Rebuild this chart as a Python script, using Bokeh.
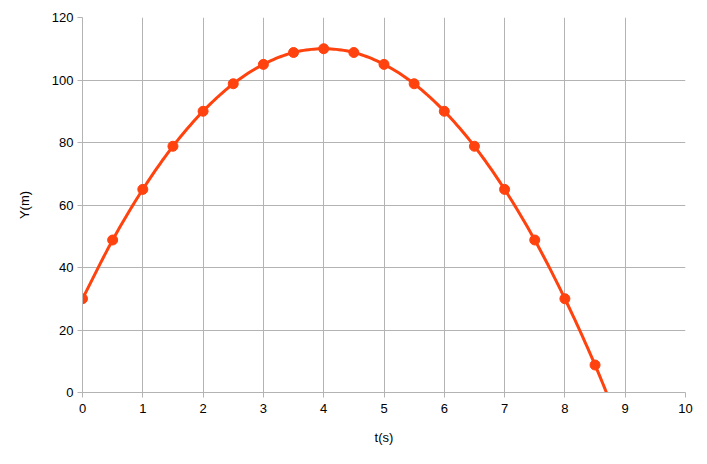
import numpy as np
from bokeh.plotting import figure
from bokeh.embed import file_html
from bokeh.resources import INLINE
from bokeh.models import FixedTicker

t = [0, 0.5, 1, 1.5, 2, 2.5, 3, 3.5, 4, 4.5, 5, 5.5, 6, 6.5, 7, 7.5, 8, 8.5, 9]
y = [30, 48.8, 65, 78.8, 90, 98.8, 105, 108.8, 110, 108.8, 105, 98.8, 90, 78.8, 65, 48.8, 30, 8.8, -15]
x_ticks = [0, 1, 2, 3, 4, 5, 6, 7, 8, 9, 10]
y_ticks = [0, 20, 40, 60, 80, 100, 120]

color = "#ff420e"
grid = "#b3b3b3"
font = "Liberation Sans"


def smooth(xs, ys, steps=12):
    # Catmull-Rom rendering of the polyline through the data points
    xs = np.asarray(xs, float)
    ys = np.asarray(ys, float)
    px = np.concatenate([[2 * xs[0] - xs[1]], xs, [2 * xs[-1] - xs[-2]]])
    py = np.concatenate([[2 * ys[0] - ys[1]], ys, [2 * ys[-1] - ys[-2]]])
    ox, oy = [], []
    for i in range(1, len(px) - 2):
        for s in np.linspace(0, 1, steps, endpoint=False):
            s2, s3 = s * s, s * s * s
            for arr, out in ((px, ox), (py, oy)):
                p0, p1, p2, p3 = arr[i - 1], arr[i], arr[i + 1], arr[i + 2]
                out.append(0.5 * (2 * p1 + (-p0 + p2) * s + (2 * p0 - 5 * p1 + 4 * p2 - p3) * s2
                                  + (-p0 + 3 * p1 - 3 * p2 + p3) * s3))
    ox.append(xs[-1])
    oy.append(ys[-1])
    return ox, oy


p = figure(width=699, height=456, x_range=(0, 10), y_range=(0, 120),
           output_backend="svg", toolbar_location=None,
           min_border_left=82, min_border_right=14, min_border_top=17, min_border_bottom=64)
p.outline_line_color = None
p.background_fill_color = "white"

sx, sy = smooth(t, y)
p.line(sx, sy, line_color=color, line_width=3)
p.scatter(t, y, size=10, fill_color=color, line_color=color)

for ax in (p.xaxis, p.yaxis):
    ax.axis_line_color = grid
    ax.major_tick_line_color = grid
    ax.major_tick_out = 5
    ax.major_tick_in = 0
    ax.minor_tick_line_color = None
    ax.major_label_text_font = font
    ax.major_label_text_font_size = "13px"
    ax.major_label_text_color = "#000000"
    ax.axis_label_text_font = font
    ax.axis_label_text_font_size = "13px"
    ax.axis_label_text_font_style = "normal"
    ax.axis_label_text_color = "#000000"

p.xaxis.ticker = FixedTicker(ticks=x_ticks)
p.yaxis.ticker = FixedTicker(ticks=y_ticks)
p.xaxis.axis_label = "t(s)"
p.yaxis.axis_label = "Y(m)"
p.xaxis.major_label_standoff = 6
p.yaxis.major_label_standoff = 4
p.xaxis.axis_label_standoff = 14
p.yaxis.axis_label_standoff = 17

p.xgrid.ticker = FixedTicker(ticks=x_ticks)
p.ygrid.ticker = FixedTicker(ticks=y_ticks)
p.xgrid.grid_line_color = grid
p.ygrid.grid_line_color = grid

open("out.html", "w").write(file_html(p, INLINE))
